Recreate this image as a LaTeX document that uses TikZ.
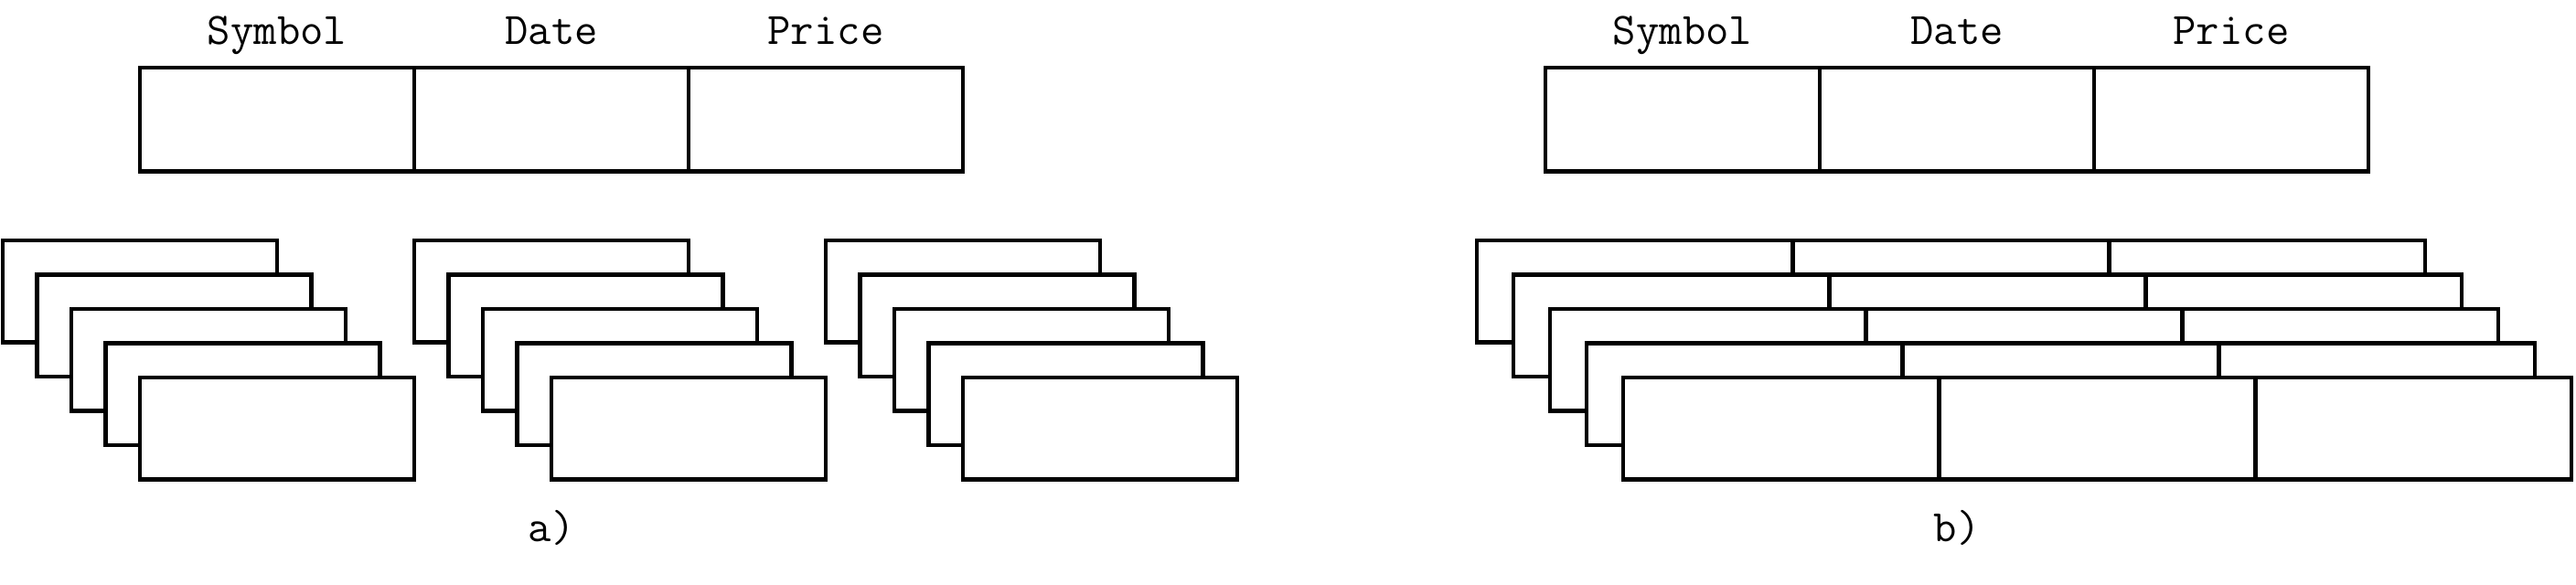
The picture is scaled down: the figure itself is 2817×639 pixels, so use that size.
\documentclass[tikz,border=0pt]{standalone}
\begin{document}
\begin{tikzpicture}[x=0.01cm,y=-0.01cm,
  box/.style={draw,line width=1.3pt,fill=white},
  divider/.style={draw,line width=1.3pt},
  lbl/.style={font=\fontsize{14}{16}\selectfont\ttfamily,anchor=base,inner sep=0pt}]
\useasboundingbox (0,0) rectangle (2817,639);
% ---- a) top record
\draw[box] (153,74) rectangle (1053,187.5);
\draw[divider] (453,74) -- (453,187.5) (753,74) -- (753,187.5);
\node[lbl] (aSym) at (303,48) {Symbol};
\node[lbl] (aDat) at (603,48) {Date};
\node[lbl] (aPri) at (903,48) {Price};
% ---- a) column stacks
\foreach \s in {0,1,2}{
  \foreach \i in {0,...,4}{
    \draw[box] ({3+450*\s+37.5*\i},{263+37.5*\i}) rectangle +(300,111.5);
  }
}
\node[lbl] (aLab) at (603,592) {a)};
% ---- b) top record
\draw[box] (1690,74) rectangle (2590,187.5);
\draw[divider] (1990,74) -- (1990,187.5) (2290,74) -- (2290,187.5);
\node[lbl] (bSym) at (1840,48) {Symbol};
\node[lbl] (bDat) at (2140,48) {Date};
\node[lbl] (bPri) at (2440,48) {Price};
% ---- b) row stack
\foreach \i in {0,...,4}{
  \draw[box] ({1615+40*\i},{263+37.5*\i}) rectangle +(1037,111.5);
  \draw[divider] ({1615+40*\i+345.7},{263+37.5*\i}) -- +(0,111.5)
                 ({1615+40*\i+691.3},{263+37.5*\i}) -- +(0,111.5);
}
\node[lbl] (bLab) at (2140,592) {b)};
\end{tikzpicture}
\end{document}
